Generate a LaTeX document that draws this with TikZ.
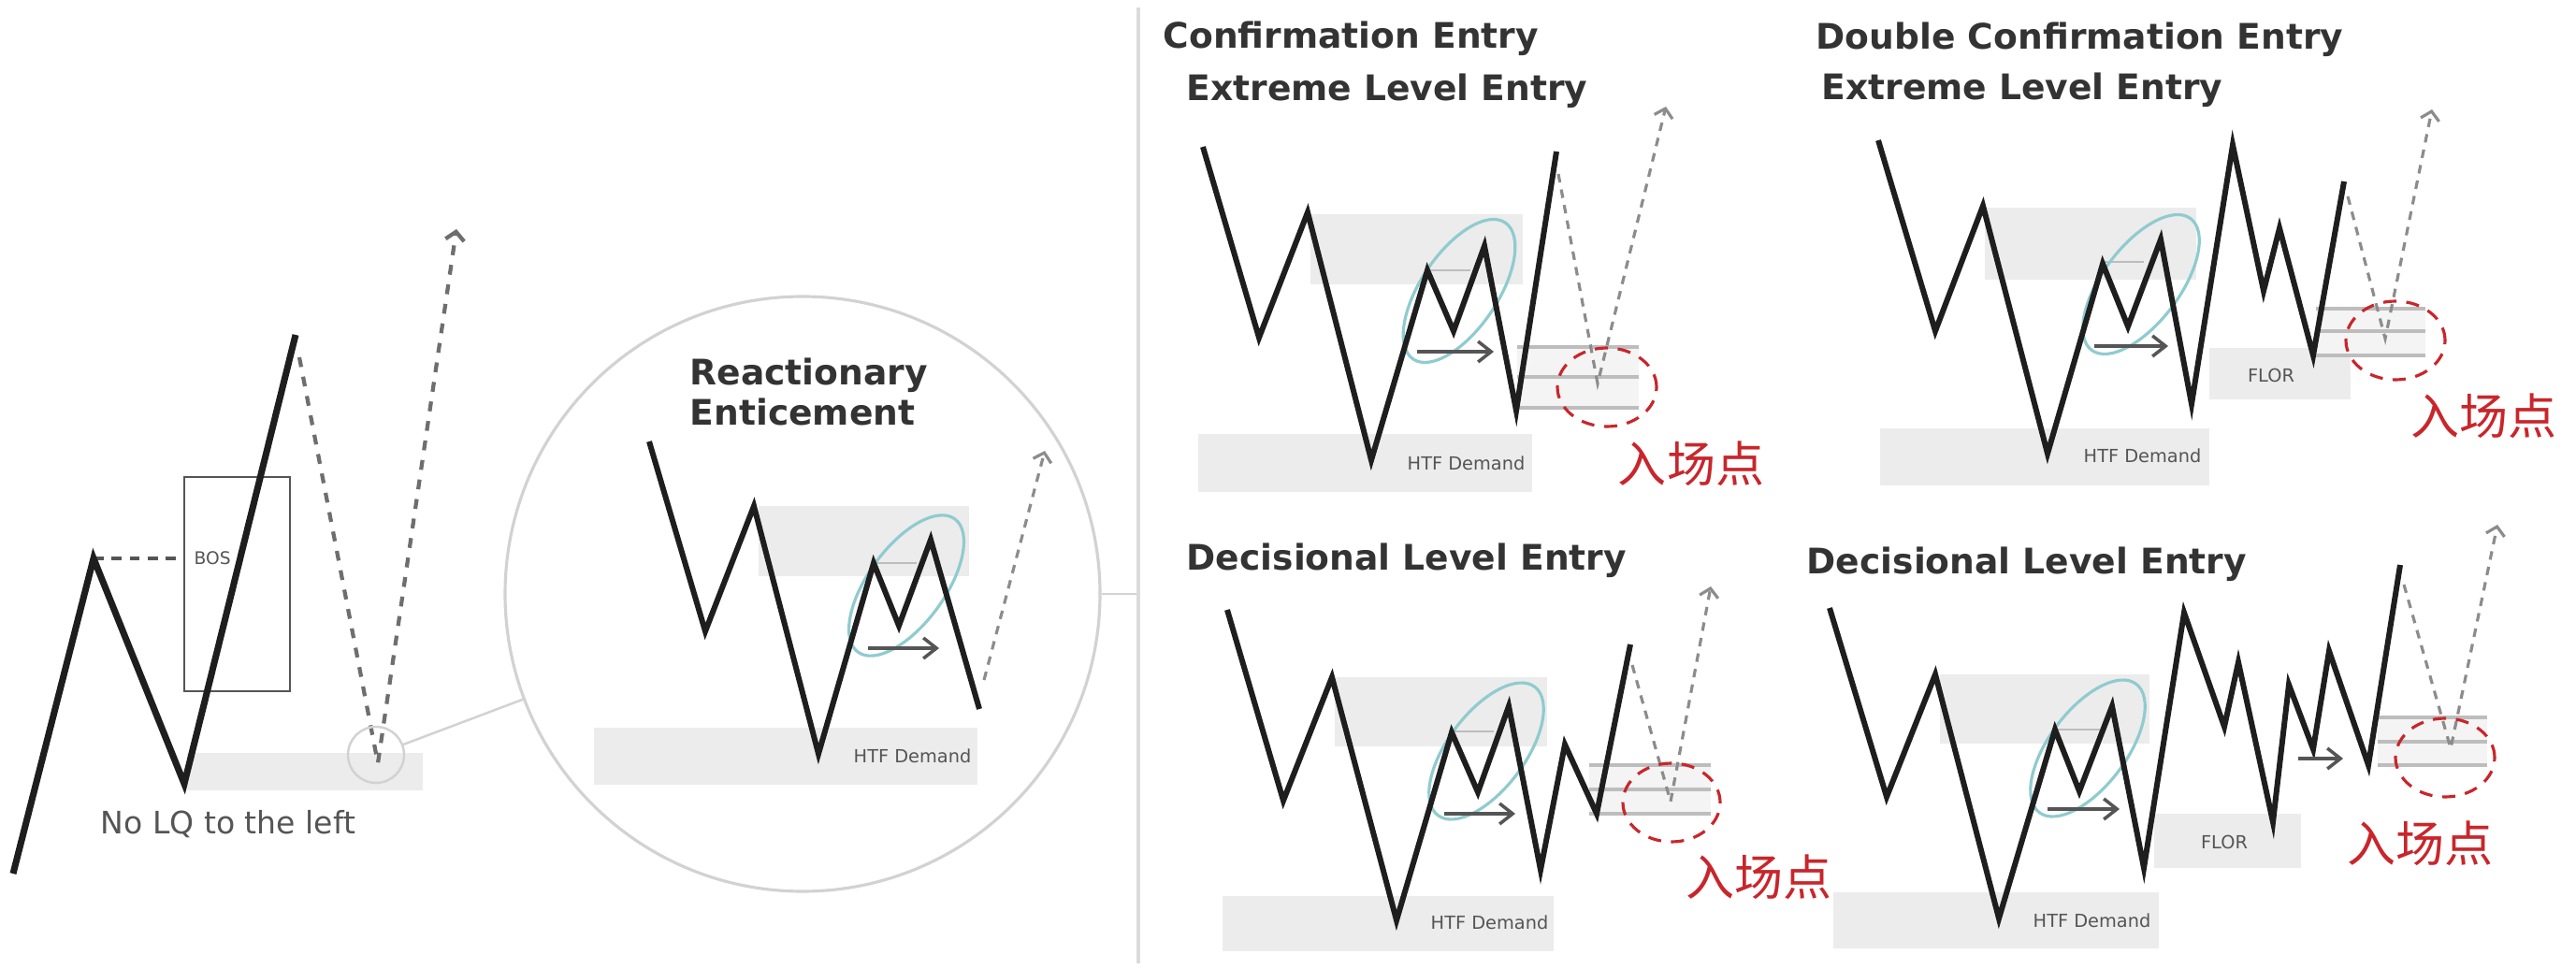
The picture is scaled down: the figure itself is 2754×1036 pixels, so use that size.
\documentclass[tikz,border=0pt]{standalone}
\usepackage{fontspec}
\setmainfont{DejaVu Sans}
\newfontfamily\cjkfont{Noto Sans CJK SC}
\usetikzlibrary{arrows.meta}
\definecolor{priceBlack}{HTML}{1E1E1E}
\definecolor{projGray}{HTML}{8C8C8C}
\definecolor{projDark}{HTML}{6E6E6E}
\definecolor{zoneGray}{HTML}{ECECEC}
\definecolor{bandGray}{HTML}{F4F4F4}
\definecolor{lineGray}{HTML}{BDBDBD}
\definecolor{ringCyan}{HTML}{8FCBCF}
\definecolor{markRed}{HTML}{C8262B}
\definecolor{labelGray}{HTML}{555555}
\definecolor{titleGray}{HTML}{333333}
\definecolor{lensGray}{HTML}{D2D2D2}
\tikzset{
  price/.style={line width=1.7pt, draw=priceBlack},
  proj/.style={draw=projGray, line width=0.9pt, dash pattern=on 2.6pt off 2.2pt,
    -{Straight Barb[length=0.9mm,width=2mm]}},
  zone/.style={fill=zoneGray, draw=none},
  entry band/.style={fill=bandGray, draw=none},
  entry line/.style={draw=lineGray, line width=0.9pt},
  ring/.style={draw=ringCyan, line width=0.9pt},
  entry mark/.style={draw=markRed, line width=0.9pt, dash pattern=on 4pt off 3pt},
  shift arrow/.style={-{Straight Barb[length=1.4mm,width=2.2mm]}, draw=labelGray,
    line width=1pt},
  level/.style={draw=lineGray, line width=0.8pt},
  title/.style={font=\bfseries\fontsize{10.7}{13}\selectfont, text=titleGray,
    anchor=base west, inner sep=0pt},
  tiny label/.style={font=\fontsize{5.5}{6}\selectfont, text=labelGray, inner sep=0pt},
  cn label/.style={font=\cjkfont\fontsize{14.8}{16}\selectfont, text=markRed,
    inner sep=0pt},
  lens/.style={circle, draw=lensGray, line width=0.9pt, minimum size=63.6mm,
    inner sep=0pt},
  spot/.style={circle, draw=lensGray, line width=0.7pt, minimum size=6mm,
    inner sep=0pt}
}
\begin{document}
\begin{tikzpicture}[x=0.1mm, y=-0.1mm]
  \useasboundingbox[fill=white] (0,0) rectangle (2754,1036);

  % break of structure
  \fill[zone] (200,805) rectangle (452,845);
  \draw[draw=labelGray, line width=0.8pt] (197,510) rectangle (310,739);
  \node[tiny label, anchor=west, font=\fontsize{5.3}{6}\selectfont] (bos) at (207,597) {BOS};
  \draw[draw=labelGray, line width=0.9pt, dash pattern=on 3pt off 2.5pt] (100,597) -- (197,597);
  \draw[price, line width=2pt] (14,934) -- (100,597) -- (197,838) -- (316,358);
  \draw[proj, draw=projDark, line width=1.2pt, dash pattern=on 3pt off 3pt]
    (320,382) -- (404,816) -- (488,245);
  \node[spot] (lqspot) at (402,807) {};
  \node[anchor=base, font=\fontsize{9.4}{11}\selectfont, text=labelGray, inner sep=0pt]
    (noliq) at (244,891) {No LQ to the left};

  % magnified view
  \node[lens] (lens) at (858,635) {};
  \coordinate (divtop) at (1217,8);
  \coordinate (divbot) at (1217,1030);
  \draw[draw=lensGray, line width=0.7pt] (lqspot) -- (lens);
  \draw[draw=lensGray, line width=0.7pt] (lens.east) -- (lens.east -| divtop);
  \draw[draw=lensGray!80, line width=1.1pt] (divtop) -- (divbot);
  \node[title] (reacta) at (737,412) {Reactionary};
  \node[title] (reactb) at (737,455) {Enticement};
  \fill[zone] (811,541) rectangle (1036,616);
  \fill[zone] (635,778) rectangle (1045,839);
  \node[tiny label, anchor=east] (htfa) at (1039,808) {HTF Demand};
  \draw[level] (934,602) -- (980,602);
  \draw[ring, rotate around={54:(969,626)}] (969,626) ellipse [x radius=8.8mm, y radius=4.1mm];
  \draw[price] (694,472) -- (754,675) -- (806,541) -- (875,806) -- (934,602)
    -- (961,669) -- (995,577) -- (1047,758);
  \draw[shift arrow] (928,693) -- (1004,693);
  \draw[proj] (1052,727) -- (1117,482);

  % confirmation entry
  \node[title] (confa) at (1243,52) {Confirmation Entry};
  \node[title] (confb) at (1268,108) {Extreme Level Entry};
  \fill[zone] (1401,229) rectangle (1628,304);
  \fill[zone] (1281,464) rectangle (1638,526);
  \node[tiny label, anchor=east] (htfb) at (1631,495) {HTF Demand};
  \draw[level] (1526,289) -- (1572,289);
  \draw[ring, rotate around={56:(1560,311)}] (1560,311) ellipse [x radius=8.8mm, y radius=4.1mm];
  \fill[entry band] (1622,371) rectangle (1752,436);
  \draw[entry line] (1622,371) -- ++(130,0) (1622,403) -- ++(130,0) (1622,436) -- ++(130,0);
  \draw[price] (1286,157) -- (1346,361) -- (1398,227) -- (1466,492) -- (1526,289)
    -- (1554,354) -- (1587,263) -- (1621,439) -- (1664,162);
  \draw[shift arrow] (1515,376) -- (1597,376);
  \draw[proj] (1666,186) -- (1708,410) -- (1781,114);
  \draw[entry mark] (1718,414) ellipse [x radius=5.3mm, y radius=4.2mm];
  \node[cn label] (entrya) at (1808,496) {入场点};

  % double confirmation entry
  \node[title] (dbla) at (1941,53) {Double Confirmation Entry};
  \node[title] (dblb) at (1947,107) {Extreme Level Entry};
  \fill[zone] (2122,222) rectangle (2348,299);
  \fill[zone] (2010,458) rectangle (2362,519);
  \fill[zone] (2362,372) rectangle (2513,427);
  \node[tiny label, anchor=east] (htfc) at (2354,487) {HTF Demand};
  \node[tiny label] (flora) at (2428,401) {FLOR};
  \draw[level] (2248,280) -- (2292,280);
  \draw[ring, rotate around={53:(2289,304)}] (2289,304) ellipse [x radius=8.8mm, y radius=4.1mm];
  \fill[entry band] (2476,330) rectangle (2593,380);
  \draw[entry line] (2476,330) -- ++(117,0) (2476,354) -- ++(117,0) (2476,380) -- ++(117,0);
  \draw[price] (2008,150) -- (2069,354) -- (2120,220) -- (2189,485) -- (2248,282)
    -- (2275,349) -- (2310,256) -- (2343,432) -- (2387,155) -- (2420,311)
    -- (2437,244) -- (2473,380) -- (2506,194);
  \draw[shift arrow] (2239,370) -- (2318,370);
  \draw[proj] (2510,210) -- (2550,362) -- (2600,117);
  \draw[entry mark] (2561,364) ellipse [x radius=5.3mm, y radius=4.2mm];
  \node[cn label] (entryb) at (2655,445) {入场点};

  % decisional level entry
  \node[title] (deca) at (1268,609) {Decisional Level Entry};
  \fill[zone] (1427,724) rectangle (1654,798);
  \fill[zone] (1307,958) rectangle (1661,1017);
  \node[tiny label, anchor=east] (htfd) at (1656,986) {HTF Demand};
  \draw[level] (1552,782) -- (1597,782);
  \draw[ring, rotate around={53:(1589,803)}] (1589,803) ellipse [x radius=8.6mm, y radius=4.1mm];
  \fill[entry band] (1699,818) rectangle (1829,870);
  \draw[entry line] (1699,818) -- ++(130,0) (1699,844) -- ++(130,0) (1699,870) -- ++(130,0);
  \draw[price] (1312,652) -- (1372,856) -- (1424,724) -- (1493,984) -- (1552,783)
    -- (1580,847) -- (1613,755) -- (1647,930) -- (1673,796) -- (1707,870) -- (1743,689);
  \draw[shift arrow] (1544,870) -- (1620,870);
  \draw[proj] (1745,711) -- (1786,857) -- (1829,627);
  \draw[entry mark] (1787,858) ellipse [x radius=5.2mm, y radius=4.2mm];
  \node[cn label] (entryc) at (1880,938) {入场点};

  % decisional level entry with floor
  \node[title] (decb) at (1931,614) {Decisional Level Entry};
  \fill[zone] (2074,721) rectangle (2298,795);
  \fill[zone] (1960,954) rectangle (2308,1014);
  \fill[zone] (2303,870) rectangle (2460,928);
  \node[tiny label, anchor=east] (htfe) at (2300,984) {HTF Demand};
  \node[tiny label] (florb) at (2378,900) {FLOR};
  \draw[level] (2197,780) -- (2245,780);
  \draw[ring, rotate around={53:(2232,800)}] (2232,800) ellipse [x radius=8.6mm, y radius=4.1mm];
  \fill[entry band] (2542,767) rectangle (2659,818);
  \draw[entry line] (2542,767) -- ++(117,0) (2542,793) -- ++(117,0) (2542,818) -- ++(117,0);
  \draw[price] (1956,650) -- (2017,852) -- (2069,721) -- (2137,982) -- (2197,780)
    -- (2223,846) -- (2258,755) -- (2292,928) -- (2335,655) -- (2378,777)
    -- (2393,708) -- (2430,879) -- (2447,732) -- (2473,801) -- (2490,696)
    -- (2532,818) -- (2566,604);
  \draw[shift arrow] (2189,865) -- (2266,865);
  \draw[shift arrow] (2457,811) -- (2505,811);
  \draw[proj] (2570,625) -- (2620,800) -- (2670,561);
  \draw[entry mark] (2614,810) ellipse [x radius=5.3mm, y radius=4.2mm];
  \node[cn label] (entryd) at (2587,902) {入场点};
\end{tikzpicture}
\end{document}
